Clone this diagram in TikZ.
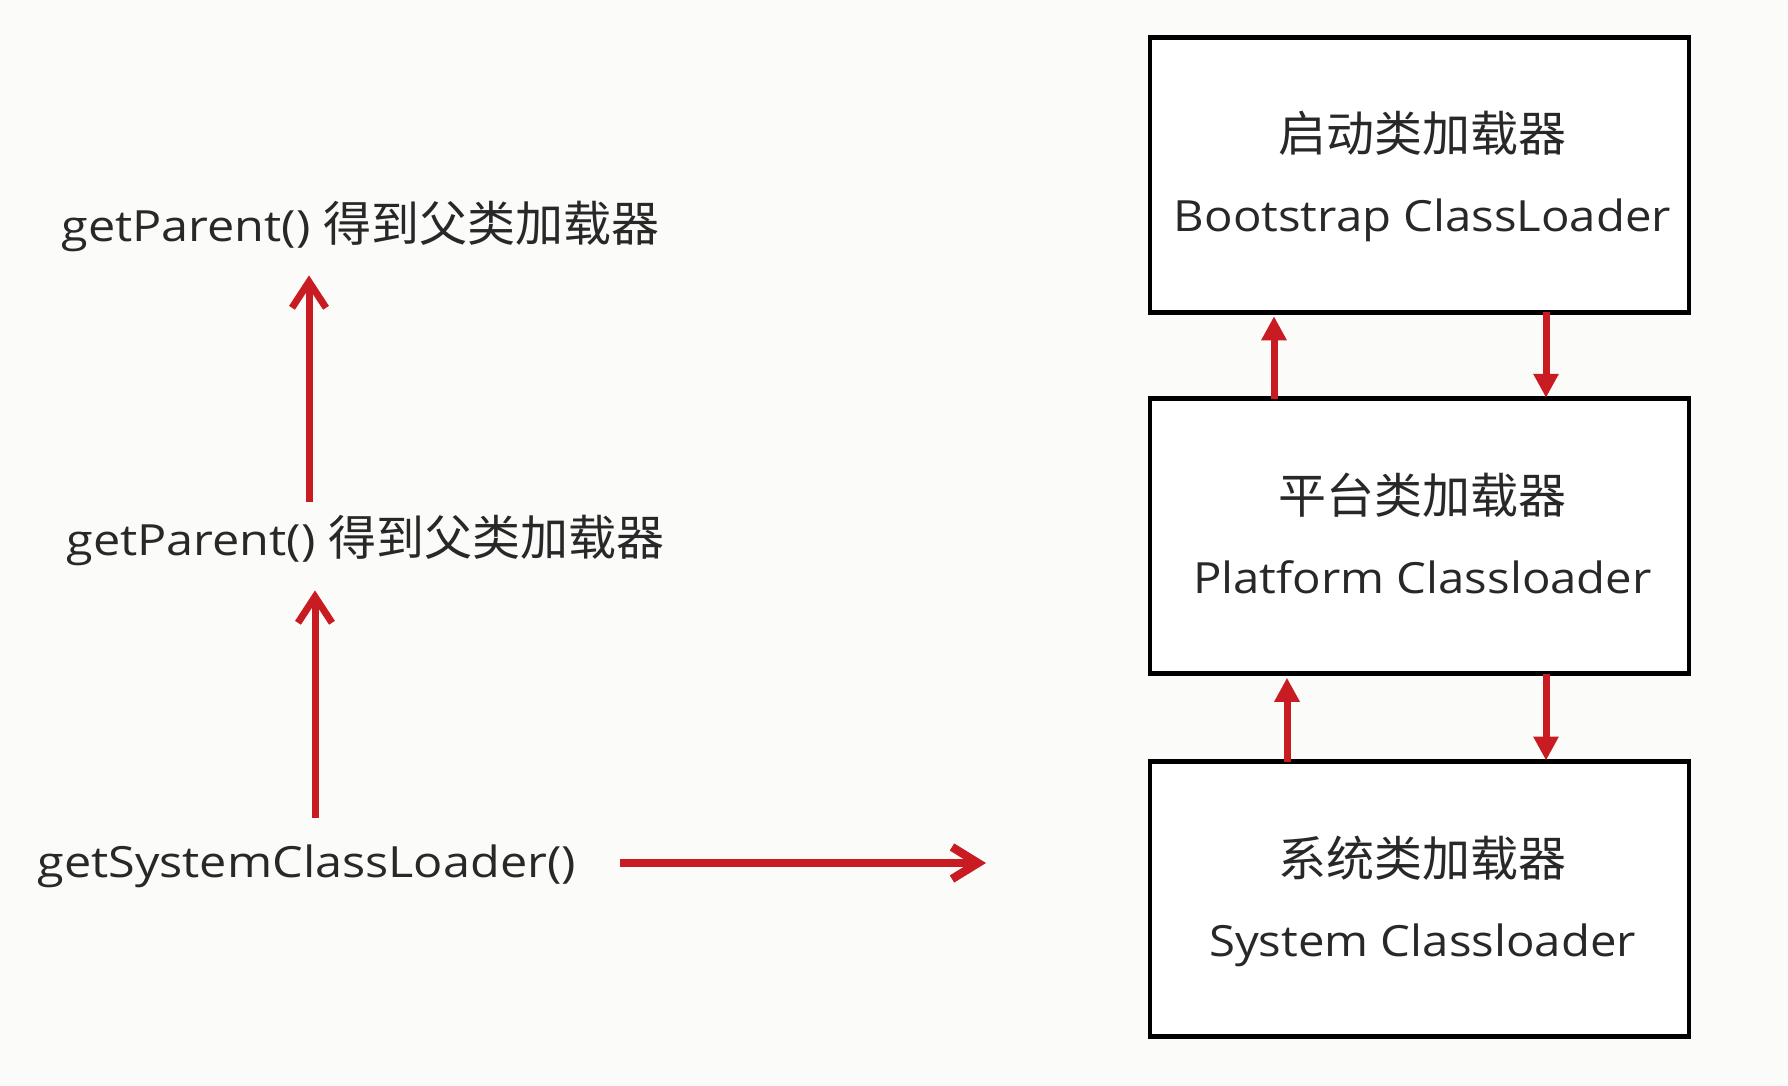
\documentclass[tikz,border=0pt]{standalone}
\usepackage{fontspec}
\setmainfont[FakeStretch=1.1]{Open Sans}
\newfontfamily\labfont[FakeStretch=1.13]{Open Sans}
\newfontfamily\cjk{Noto Sans CJK SC}
\usetikzlibrary{arrows.meta}
\definecolor{bgc}{RGB}{251,251,250}
\definecolor{arr}{RGB}{200,28,34}
\definecolor{txt}{RGB}{40,40,40}
\newcommand{\latfont}{\fontsize{21.5}{25}\selectfont}
\newcommand{\zh}[1]{{\cjk\fontsize{24}{28}\selectfont #1}}
\tikzset{
  loaderbox/.style={draw=black, line width=2.3pt, outer sep=0pt, inner sep=0pt,
    minimum width=269.5pt, minimum height=137.5pt, fill=white},
  boxtext/.style={anchor=base, inner sep=0pt, text=txt, font=\latfont},
  labeltext/.style={anchor=base west, inner sep=0pt, text=txt, font=\labfont\latfont,
    text height=20pt, text depth=6pt},
  larrow/.style={draw=arr, line width=3.5pt,
    -{Straight Barb[length=13pt,width=17pt,line width=3.5pt]}},
  harrow/.style={draw=arr, line width=4.2pt,
    -{Straight Barb[length=13pt,width=16pt,line width=4.2pt]}},
  barrow/.style={draw=arr, line width=3.5pt,
    -{Triangle[length=12pt,width=12pt]}}
}
\begin{document}
\begin{tikzpicture}[x=0.5pt,y=-0.5pt]
\fill[bgc] (0,0) rectangle (1788,1086);
\useasboundingbox (0,0) rectangle (1788,1086);

% boxes
\node[loaderbox] (b1) at (1419.5,174.75) {};
\node[loaderbox] (b2) at (1419.5,536.25) {};
\node[loaderbox] (b3) at (1419.5,899) {};

\node[boxtext] (t1a) at ([xshift=1.5pt,yshift=11.5pt]b1.center) {\zh{启动类加载器}};
\node[boxtext] (t1b) at ([xshift=1.5pt,yshift=-28.5pt]b1.center) {Bootstrap ClassLoader};
\node[boxtext] (t2a) at ([xshift=1.5pt,yshift=11.5pt]b2.center) {\zh{平台类加载器}};
\node[boxtext] (t2b) at ([xshift=1.5pt,yshift=-28.5pt]b2.center) {Platform Classloader};
\node[boxtext] (t3a) at ([xshift=1.5pt,yshift=11.5pt]b3.center) {\zh{系统类加载器}};
\node[boxtext] (t3b) at ([xshift=1.5pt,yshift=-28.5pt]b3.center) {System Classloader};

% left labels
\node[labeltext] (p1) at (61,241) {getParent()\hspace{6.5pt}\zh{得到父类加载器}};
\node[labeltext] (p2) at (66,555) {getParent()\hspace{6.5pt}\zh{得到父类加载器}};
\node[labeltext] (p3) at (37,877) {getSystemClassLoader()};

% arrow x positions
\coordinate (ax1) at (309,0);
\coordinate (ax2) at (315,0);
\coordinate (ux1) at (1274,0);
\coordinate (ux2) at (1287,0);
\coordinate (dx) at (1546,0);

\draw[larrow, shorten <=6.5pt, shorten >=11pt] (p2.north -| ax1) -- (p1.south -| ax1);
\draw[larrow, shorten <=9.5pt, shorten >=11.5pt] (p3.north -| ax2) -- (p2.south -| ax2);
\draw[harrow, shorten <=22pt, shorten >=82pt] (p3.east) -- (p3.east -| b3.west);

\draw[barrow, shorten >=2pt] (b2.north -| ux1) -- (b1.south -| ux1);
\draw[barrow, shorten >=0.5pt] (b1.south -| dx) -- (b2.north -| dx);
\draw[barrow, shorten >=2pt] (b3.north -| ux2) -- (b2.south -| ux2);
\draw[barrow, shorten >=0.5pt] (b2.south -| dx) -- (b3.north -| dx);
\end{tikzpicture}
\end{document}
